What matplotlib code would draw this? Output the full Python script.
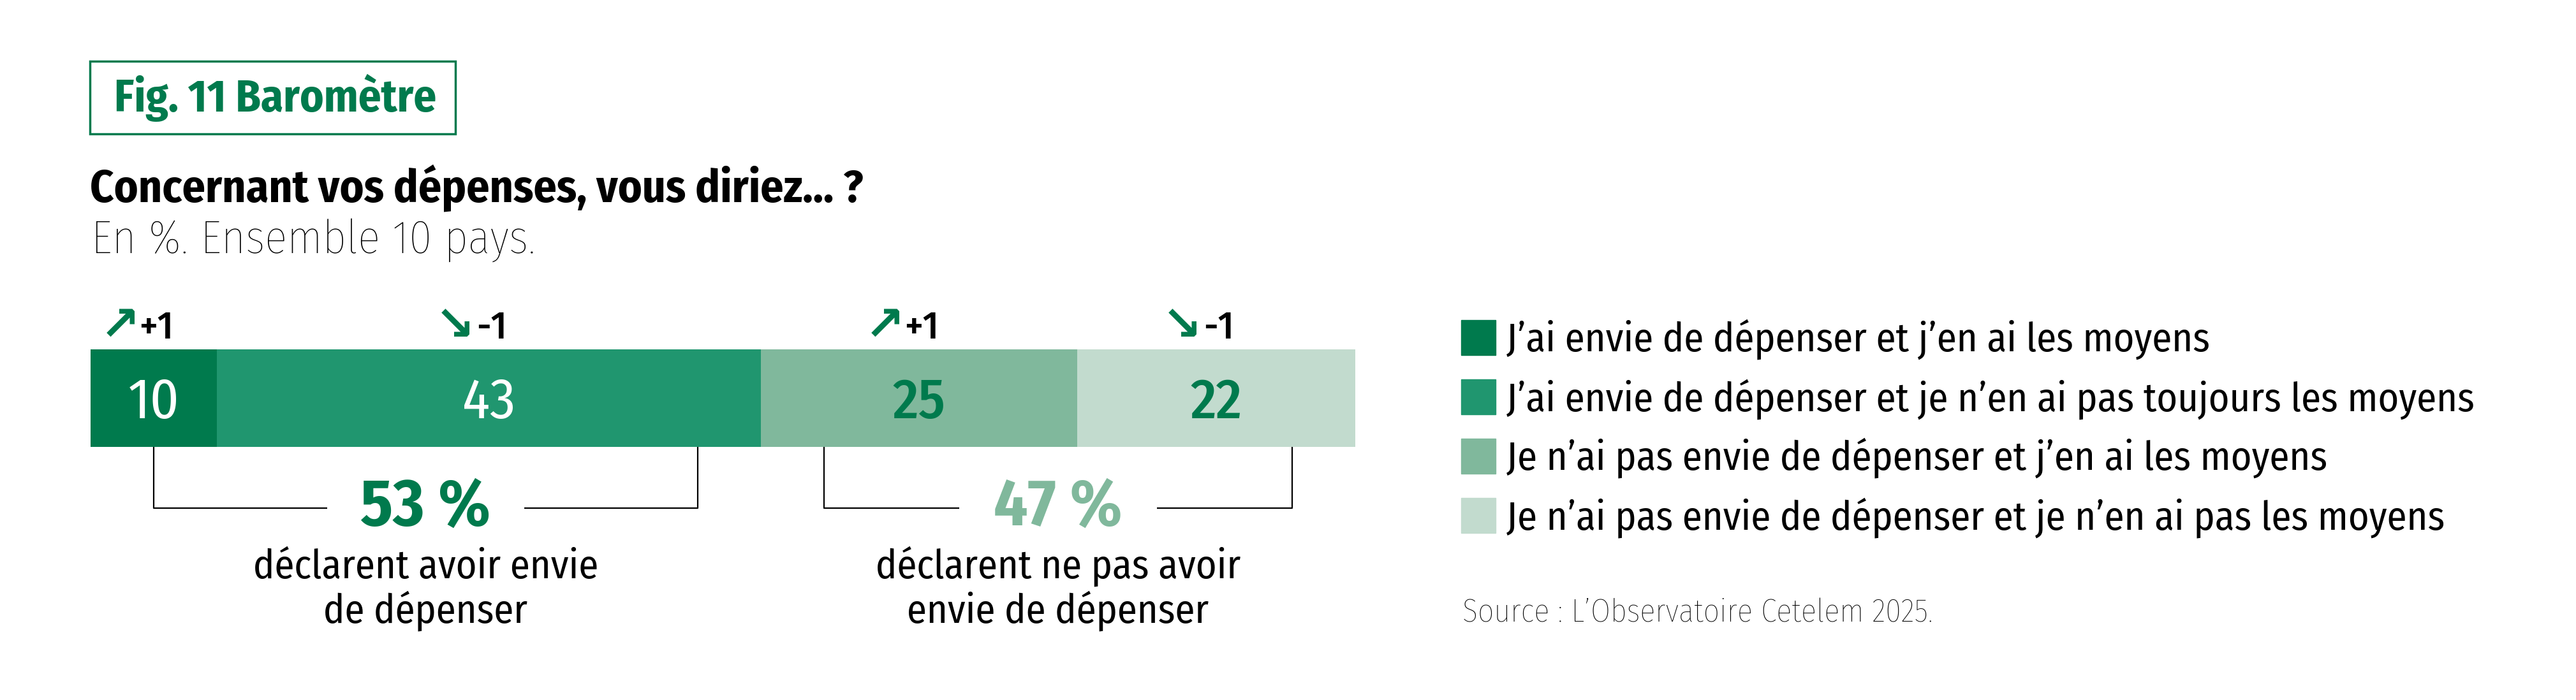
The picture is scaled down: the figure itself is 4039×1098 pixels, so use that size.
import matplotlib
matplotlib.use("Agg")
import matplotlib.pyplot as plt
from matplotlib.patches import Rectangle

# data
categories = [
    "J\u2019ai envie de dépenser et j\u2019en ai les moyens",
    "J\u2019ai envie de dépenser et je n\u2019en ai pas toujours les moyens",
    "Je n\u2019ai pas envie de dépenser et j\u2019en ai les moyens",
    "Je n\u2019ai pas envie de dépenser et je n\u2019en ai pas les moyens",
]
values = [10, 43, 25, 22]
changes = [1, -1, 1, -1]
groups = [53, 47]
group_labels = [["déclarent avoir envie", "de dépenser"],
                ["déclarent ne pas avoir", "envie de dépenser"]]

colors = ["#007a4d", "#20966f", "#80b89c", "#c2dbce"]
label_colors = ["white", "white", "#007a4d", "#007a4d"]
label_weights = ["normal", "normal", "medium", "medium"]
group_colors = ["#007a4d", "#80b89c"]

FONT = ["Fira Sans Condensed", "DejaVu Sans"]
plt.rcParams["font.family"] = FONT

W, H = 4039, 1098
fig = plt.figure(figsize=(W / 100, H / 100), dpi=100)

# axes: x in percent, y in pixels (top down)
x0, x1 = 142, 2125
ax = fig.add_axes([x0 / W, 0, (x1 - x0) / W, 1])
ax.set_xlim(0, 100)
ax.set_ylim(H, 0)
ax.axis("off")

bar_y, bar_h = 624.5, 153
left = 0
centers = []
for v, c in zip(values, colors):
    ax.barh(bar_y, v, left=left, height=bar_h, color=c, edgecolor="none")
    centers.append(left + v / 2)
    left += v

for cx, v, lc, lw_, ch in zip(centers, values, label_colors, label_weights, changes):
    ax.text(cx, 656, str(v), ha="center", va="baseline", fontsize=64,
            color=lc, fontweight=lw_)
    arrow = "\u2197" if ch > 0 else "\u2198"
    sign = f"+{ch}" if ch > 0 else f"{ch}"
    ax.text(cx - 1.1, 533, arrow, ha="right", va="baseline", fontsize=54,
            color="#007a4d", fontweight="bold", family=["DejaVu Sans"])
    ax.text(cx + 0.2, 531, sign, ha="center", va="baseline", fontsize=44,
            color="black", fontweight="medium")

# brackets under the bar
starts = [0, groups[0]]
for i, (s, g) in enumerate(zip(starts, groups)):
    a, b = s + 5, s + g - 5
    mid = (a + b) / 2
    gap = 7.8
    ax.plot([a, a, mid - gap], [701, 797, 797], color="black", lw=1.6, solid_capstyle="butt")
    ax.plot([mid + gap, b, b], [797, 797, 701], color="black", lw=1.6, solid_capstyle="butt")
    ax.text(mid, 824, f"{g} %", ha="center", va="baseline", fontsize=75,
            fontweight="bold", color=group_colors[i])
    for j, line in enumerate(group_labels[i]):
        ax.text(mid, 907 + j * 70, line, ha="center", va="baseline", fontsize=45,
                color="black")

# heading
fig.patches.append(Rectangle((141 / W, 1 - 210 / H), 573 / W, 114 / H,
                             transform=fig.transFigure, fill=False,
                             edgecolor="#007a4d", lw=2.5))
fig.text(179 / W, 1 - 175 / H, "Fig. 11 Baromètre", fontsize=51, fontweight="bold",
         color="#007a4d", va="baseline")
fig.text(141 / W, 1 - 316 / H, "Concernant vos dépenses, vous diriez... ?", fontsize=51.5,
         fontweight="bold", color="black", va="baseline")
fig.text(143 / W, 1 - 397 / H, "En %. Ensemble 10 pays.", fontsize=52.5,
         fontweight="light", color="black", va="baseline")

# legend
for i, (lab, c) in enumerate(zip(categories, colors)):
    top = 502 + i * 93
    fig.patches.append(Rectangle((2291 / W, 1 - (top + 55) / H), 54 / W, 55 / H,
                                 transform=fig.transFigure, color=c))
    fig.text(2362 / W, 1 - (top + 49) / H, lab, fontsize=45, color="black", va="baseline")

fig.text(2293 / W, 1 - 975 / H, "Source : L\u2019Observatoire Cetelem 2025.", fontsize=36,
         fontweight="light", color="black", va="baseline")

fig.savefig("out.png", dpi=100, facecolor="white")
